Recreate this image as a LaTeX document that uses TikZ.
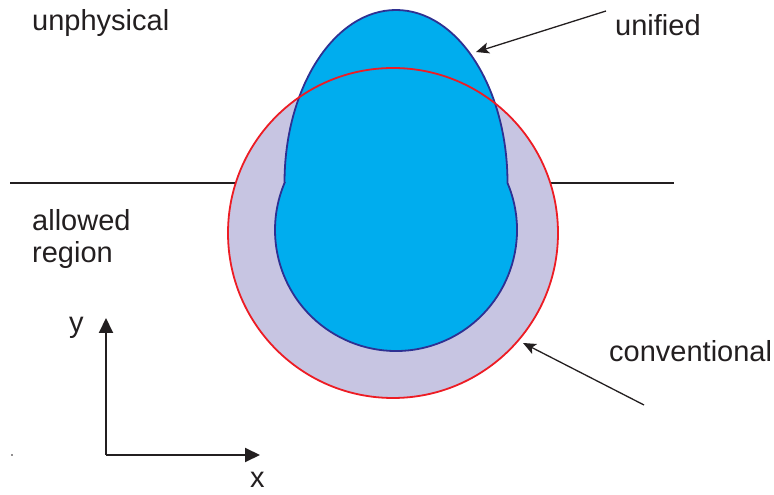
\documentclass[tikz,border=0pt]{standalone}
\usepackage{fontspec}
\setmainfont{Liberation Sans}
\usetikzlibrary{arrows.meta}
\definecolor{lav}{HTML}{C7C5E2}
\definecolor{cyanfill}{HTML}{00ADEE}
\definecolor{darkblue}{HTML}{2E3192}
\definecolor{redline}{HTML}{ED1C24}
\definecolor{ink}{HTML}{231F20}
\begin{document}
\begin{tikzpicture}[x=1pt,y=1pt,
  lbl/.style={anchor=base west,inner sep=0pt,text=ink,font=\fontsize{29}{34}\selectfont},
  axis/.style={draw=ink,line width=2pt,-{Triangle[length=15pt,width=14pt]}},
  pointer/.style={draw=ink,line width=1.3pt,-{Stealth[length=13pt,width=11pt,inset=3pt]}}]
\useasboundingbox (0,0) rectangle (774,495);
% boundary line
\coordinate (hl) at (10,312);
\coordinate (hr) at (674,312);
\draw[ink,line width=1.6pt] (hl) -- (hr);
% conventional region
\coordinate (cc) at (393,262);
\fill[lav] (cc) circle[radius=165pt];
% unified region
\filldraw[fill=cyanfill,draw=darkblue,line width=1.8pt]
  (284.5,312) arc[start angle=180,end angle=0,x radius=111.5pt,y radius=173pt]
  arc[start angle=22.86,end angle=-202.86,radius=121pt] -- cycle;
\draw[redline,line width=1.8pt] (cc) circle[radius=165pt];
% labels
\node[lbl] (unph) at (32,464) {unphysical};
\node[lbl] (unif) at (615,459) {unified};
\node[lbl] (allo) at (32,264) {allowed};
\node[lbl] (regi) at (32,232) {region};
\node[lbl] (conv) at (609,133) {conventional};
\node[lbl] (ylab) at (69,162) {y};
\node[lbl] (xlab) at (250,7) {x};
% pointers
\coordinate (ua) at (606,484);
\coordinate (ub) at (476,443);
\draw[pointer] (ua) -- (ub);
\coordinate (ca) at (644,90);
\coordinate (cb) at (523,152);
\draw[pointer] (ca) -- (cb);
% axes
\coordinate (o) at (106,40);
\coordinate (yt) at (106,177);
\coordinate (xt) at (260,40);
\draw[axis] (o) -- (yt);
\draw[axis] (o) -- (xt);
\fill[ink] (12,40) circle[radius=0.8pt];
\end{tikzpicture}
\end{document}
